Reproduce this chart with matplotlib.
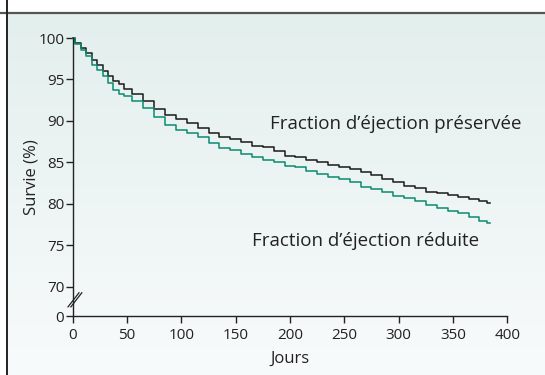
import matplotlib.pyplot as plt
import numpy as np
from matplotlib.lines import Line2D

# Kaplan-Meier readings (day, survival %)
days = [0, 5, 10, 15, 20, 25, 30, 35, 40, 45, 50, 60, 70, 80, 90, 100, 110, 120,
        130, 140, 150, 160, 170, 180, 190, 200, 210, 220, 230, 240, 250, 260, 270,
        280, 290, 300, 310, 320, 330, 340, 350, 360, 370, 378, 384]
preservee = [100, 99.4, 98.8, 98.2, 97.4, 96.7, 96.0, 95.4, 94.8, 94.4, 93.9, 93.2,
             92.4, 91.5, 90.7, 90.2, 89.7, 89.1, 88.5, 88.1, 87.8, 87.5, 87.0, 86.9,
             86.4, 85.8, 85.6, 85.3, 85.0, 84.7, 84.4, 84.2, 83.8, 83.5, 83.0, 82.6,
             82.2, 81.9, 81.5, 81.3, 81.1, 80.9, 80.6, 80.3, 80.1]
reduite = [100, 99.3, 98.5, 97.8, 96.8, 96.1, 95.4, 94.6, 93.7, 93.3, 93.0, 92.4,
           91.6, 90.5, 89.5, 88.9, 88.5, 88.1, 87.3, 86.8, 86.5, 86.0, 85.6, 85.3,
           85.0, 84.6, 84.4, 84.0, 83.6, 83.3, 83.0, 82.6, 82.1, 81.8, 81.4, 81.0,
           80.7, 80.3, 79.9, 79.5, 79.2, 78.9, 78.4, 78.0, 77.7]

xticks = [0, 50, 100, 150, 200, 250, 300, 350, 400]
yticks = [70, 75, 80, 85, 90, 95, 100]
y_zero = 66.5  # where the "0" sits below the axis break

plt.rcParams['font.family'] = ['Open Sans', 'DejaVu Sans']

fig = plt.figure(figsize=(5.45, 3.75), dpi=100)

# panel background gradient
bg = fig.add_axes([7 / 545, 0, 1 - 7 / 545, 1 - 13 / 375])
grad = np.linspace(0, 1, 256).reshape(-1, 1)
top = np.array([0.890, 0.937, 0.930])
bot = np.array([0.972, 0.984, 0.984])
img = top + (bot - top) * grad[:, :, None]
bg.imshow(img, aspect='auto', extent=[0, 1, 0, 1])
bg.axis('off')

# frame lines
fig.add_artist(Line2D([0, 1], [1 - 12.8 / 375] * 2, color='#555555', lw=1.6))
fig.add_artist(Line2D([6.8 / 545] * 2, [0, 1], color='#222222', lw=1.4))

ax = fig.add_axes([72.7 / 545, 1 - 316 / 375, (507.3 - 72.7) / 545, (316 - 38) / 375])
ax.patch.set_alpha(0)

ax.plot(days, preservee, drawstyle='steps-mid', color='#1a1a1a', lw=1.1, clip_on=False)
ax.plot(days, reduite, drawstyle='steps-mid', color='#0b8a70', lw=1.1, clip_on=False)

ax.set_xlim(0, 400)
ax.set_ylim(y_zero, 100)
ax.set_xticks(xticks)
ax.set_yticks([y_zero] + yticks)
ax.set_yticklabels(['0'] + [str(t) for t in yticks])
for s in ['top', 'right']:
    ax.spines[s].set_visible(False)
for s in ['left', 'bottom']:
    ax.spines[s].set_color('#222222')
    ax.spines[s].set_linewidth(1.0)
ax.tick_params(axis='both', length=5, width=1.0, color='#222222',
               labelsize=11, labelcolor='#222222')
ax.tick_params(axis='x', pad=3.5)
ax.tick_params(axis='y', pad=1)

# axis break marks
for dx in (0, 2.6):
    ax.plot([-4.3 + dx, 5.8 + dx], [67.6, 69.3], color='#222222', lw=0.9, clip_on=False)

ax.set_xlabel('Jours', fontsize=12, color='#222222', labelpad=5.5)
ax.set_ylabel('Survie (%)', fontsize=12, color='#222222', labelpad=-1)

ax.text(297, 89.6, 'Fraction d\u2019éjection préservée', fontsize=13.5,
        color='#222222', ha='center', va='center')
ax.text(270, 75.5, 'Fraction d\u2019éjection réduite', fontsize=13.5,
        color='#222222', ha='center', va='center')

fig.savefig('out.png', dpi=100)
